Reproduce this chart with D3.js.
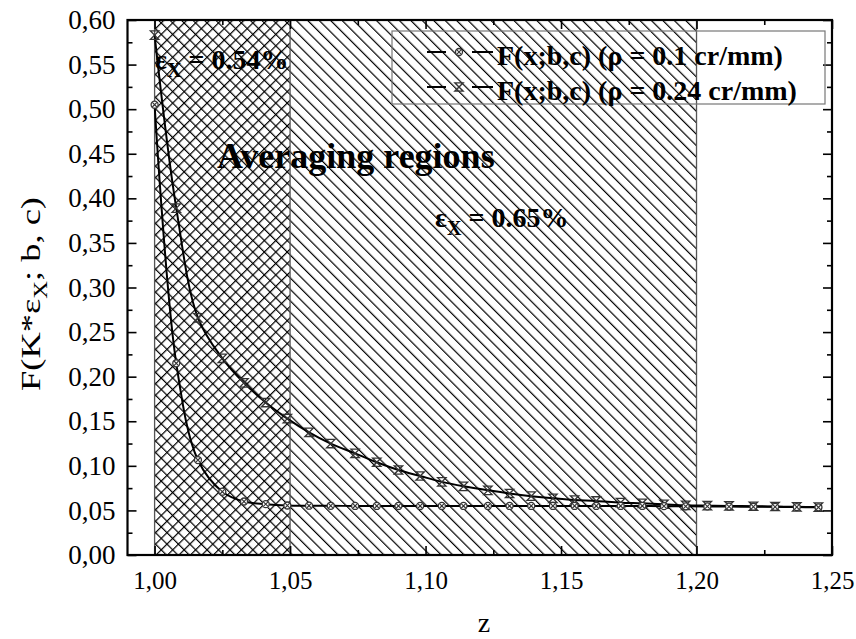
<!DOCTYPE html>
<html>
<head>
<meta charset="utf-8">
<script src="https://cdn.jsdelivr.net/npm/d3@7"></script>
<style>
  body { margin: 0; background: #fff; }
</style>
</head>
<body>
<div id="chart"></div>
<script>
// values
var zValues = [1.000, 1.008, 1.016, 1.025, 1.033, 1.041, 1.049, 1.057, 1.065, 1.074,
               1.082, 1.090, 1.098, 1.106, 1.114, 1.123, 1.131, 1.139, 1.147, 1.155,
               1.163, 1.172, 1.180, 1.188, 1.196, 1.204, 1.212, 1.221, 1.229, 1.237, 1.245];
var rho01 = [0.505, 0.215, 0.1065, 0.071, 0.060, 0.057, 0.0555, 0.0553, 0.0552, 0.055,
             0.055, 0.055, 0.055, 0.055, 0.055, 0.055, 0.055, 0.055, 0.055, 0.055,
             0.055, 0.055, 0.055, 0.0548, 0.0546, 0.0545, 0.0543, 0.0541, 0.054, 0.0538, 0.0535];
var rho024 = [0.583, 0.389, 0.266, 0.2206, 0.193, 0.171, 0.153, 0.1376, 0.125, 0.114,
              0.104, 0.0953, 0.0886, 0.082, 0.077, 0.0725, 0.069, 0.066, 0.0636, 0.0617,
              0.0606, 0.0587, 0.058, 0.0569, 0.0557, 0.0553, 0.055, 0.0547, 0.0544, 0.054, 0.0537];
var seriesNames = ["F(x;b,c) (\u03c1 = 0.1 cr/mm)", "F(x;b,c) (\u03c1 = 0.24 cr/mm)"];

var xTickValues = [1.00, 1.05, 1.10, 1.15, 1.20, 1.25];
var xTickLabels = ["1,00", "1,05", "1,10", "1,15", "1,20", "1,25"];
var yTickValues = [0, 0.05, 0.10, 0.15, 0.20, 0.25, 0.30, 0.35, 0.40, 0.45, 0.50, 0.55, 0.60];
var yTickLabels = ["0,00", "0,05", "0,10", "0,15", "0,20", "0,25", "0,30", "0,35", "0,40", "0,45", "0,50", "0,55", "0,60"];

// averaging regions (z from / to)
var crossRegion = [1.00, 1.05];
var diagRegion = [1.00, 1.20];

var FONT = "'Liberation Serif', 'Times New Roman', 'DejaVu Serif', serif";

var svgWidth = 856;
var svgHeight = 639;
var plot = {left: 127.5, right: 832, top: 20, bottom: 555};

var svg = d3.select("#chart").append("svg")
    .attr("width", svgWidth)
    .attr("height", svgHeight);

var xScale = d3.scaleLinear().domain([0.990, 1.25]).range([plot.left, plot.right]);
var yScale = d3.scaleLinear().domain([0, 0.6]).range([plot.bottom, plot.top]);

// hatch patterns
var defs = svg.append("defs");
function hatch(id, angle) {
    var p = defs.append("pattern")
        .attr("id", id)
        .attr("patternUnits", "userSpaceOnUse")
        .attr("width", 8.1).attr("height", 8.1)
        .attr("patternTransform", "rotate(" + angle + ")");
    p.append("line")
        .attr("x1", 0.6).attr("y1", -1).attr("x2", 0.6).attr("y2", 10)
        .attr("stroke", "#000").attr("stroke-width", 1.2);
}
hatch("back", -45);
hatch("fwd", 45);

svg.append("rect")
    .attr("x", xScale(diagRegion[0])).attr("y", plot.top)
    .attr("width", xScale(diagRegion[1]) - xScale(diagRegion[0]))
    .attr("height", plot.bottom - plot.top)
    .attr("fill", "url(#back)");
svg.append("rect")
    .attr("x", xScale(crossRegion[0])).attr("y", plot.top)
    .attr("width", xScale(crossRegion[1]) - xScale(crossRegion[0]))
    .attr("height", plot.bottom - plot.top)
    .attr("fill", "url(#fwd)");

// region borders
[diagRegion[0], crossRegion[1], diagRegion[1]].forEach(function(v) {
    svg.append("line")
        .attr("x1", xScale(v)).attr("x2", xScale(v))
        .attr("y1", plot.top).attr("y2", plot.bottom)
        .attr("stroke", "#555").attr("stroke-width", 1.3);
});

// curves
var line = d3.line()
    .x(function(d) { return xScale(d[0]); })
    .y(function(d) { return yScale(d[1]); })
    .curve(d3.curveCatmullRom.alpha(0.5));

var s1 = zValues.map(function(z, i) { return [z, rho01[i]]; });
var s2 = zValues.map(function(z, i) { return [z, rho024[i]]; });

svg.append("path").datum(s2)
    .attr("d", line).attr("fill", "none")
    .attr("stroke", "#000").attr("stroke-width", 2);
svg.append("path").datum(s1)
    .attr("d", line).attr("fill", "none")
    .attr("stroke", "#000").attr("stroke-width", 2);

// markers
function circleMark(g) {
    g.append("circle").attr("r", 3.5)
        .attr("fill", "#fff").attr("stroke", "#333").attr("stroke-width", 1.3);
    g.append("path").attr("d", "M-2.3,-2.3L2.3,2.3M2.3,-2.3L-2.3,2.3")
        .attr("stroke", "#333").attr("stroke-width", 1.1);
}
function hourMark(g) {
    g.append("path").attr("d", "M-4.2,-4.2L4.2,-4.2L-4.2,4.2L4.2,4.2Z")
        .attr("fill", "none").attr("stroke", "#333").attr("stroke-width", 1.3);
}

svg.selectAll(".m2").data(s2).enter().append("g")
    .attr("transform", function(d) { return "translate(" + xScale(d[0]) + "," + yScale(d[1]) + ")"; })
    .each(function() { hourMark(d3.select(this)); });
svg.selectAll(".m1").data(s1).enter().append("g")
    .attr("transform", function(d) { return "translate(" + xScale(d[0]) + "," + yScale(d[1]) + ")"; })
    .each(function() { circleMark(d3.select(this)); });

// axes, ticks point inwards
var xMinor = d3.range(1.025, 1.25, 0.05);
var yMinor = d3.range(0.025, 0.6, 0.05);

function styleAxis(size) {
    return function(g) {
        g.select(".domain").remove();
        g.attr("font-family", null).attr("font-size", null);
        g.selectAll("line").attr("stroke", "#000").attr("stroke-width", 1.6);
        g.selectAll("text").style("font-size", size + "px").attr("fill", "#000");
    };
}

svg.append("g").attr("transform", "translate(0," + plot.bottom + ")")
    .call(d3.axisBottom(xScale).tickValues(xTickValues).tickSize(-9).tickPadding(16)
        .tickFormat(function(d, i) { return xTickLabels[i]; }))
    .call(styleAxis(25));
svg.append("g").attr("transform", "translate(0," + plot.bottom + ")")
    .call(d3.axisBottom(xScale).tickValues(xMinor).tickSize(-5).tickFormat(""))
    .call(styleAxis(25));
svg.append("g").attr("transform", "translate(0," + plot.top + ")")
    .call(d3.axisTop(xScale).tickValues(xTickValues).tickSize(-9).tickFormat(""))
    .call(styleAxis(25));
svg.append("g").attr("transform", "translate(0," + plot.top + ")")
    .call(d3.axisTop(xScale).tickValues(xMinor).tickSize(-5).tickFormat(""))
    .call(styleAxis(25));

svg.append("g").attr("transform", "translate(" + plot.left + ",0)")
    .call(d3.axisLeft(yScale).tickValues(yTickValues).tickSize(-9).tickPadding(12)
        .tickFormat(function(d, i) { return yTickLabels[i]; }))
    .call(styleAxis(27));
svg.append("g").attr("transform", "translate(" + plot.left + ",0)")
    .call(d3.axisLeft(yScale).tickValues(yMinor).tickSize(-5).tickFormat(""))
    .call(styleAxis(27));
svg.append("g").attr("transform", "translate(" + plot.right + ",0)")
    .call(d3.axisRight(yScale).tickValues(yTickValues).tickSize(-9).tickFormat(""))
    .call(styleAxis(27));
svg.append("g").attr("transform", "translate(" + plot.right + ",0)")
    .call(d3.axisRight(yScale).tickValues(yMinor).tickSize(-5).tickFormat(""))
    .call(styleAxis(27));

// frame
svg.append("rect")
    .attr("x", plot.left).attr("y", plot.top)
    .attr("width", plot.right - plot.left).attr("height", plot.bottom - plot.top)
    .attr("fill", "none").attr("stroke", "#000").attr("stroke-width", 2.2);

// axis titles
svg.append("text")
    .attr("x", 484).attr("y", 632)
    .attr("text-anchor", "middle")
    .style("font-size", "28px")
    .text("z");

// the y title in the original is stretched along its length
var yt = svg.append("text")
    .attr("transform", "translate(40,294) rotate(-90) scale(1.3,1)")
    .attr("text-anchor", "middle")
    .style("font-size", "28px");
yt.append("tspan").text("F(K*\u03b5");
yt.append("tspan").attr("dy", 7).style("font-size", "19px").text("X");
yt.append("tspan").attr("dy", -7).text("; b, c)");

// annotations
function epsLabel(x, y, rest) {
    var t = svg.append("text")
        .attr("x", x).attr("y", y)
        .style("font-size", "28px").style("font-weight", "bold");
    t.append("tspan").text("\u03b5");
    t.append("tspan").attr("dy", 8).style("font-size", "20px").text("X");
    t.append("tspan").attr("dy", -8).text(" " + rest);
}
epsLabel(155, 69, "= 0.54%");
epsLabel(435, 227, "= 0.65%");

svg.append("text")
    .attr("x", 217).attr("y", 168)
    .style("font-size", "36px").style("font-weight", "bold")
    .text("Averaging regions");

// legend
var legend = svg.append("g");
legend.append("rect")
    .attr("x", 392).attr("y", 31).attr("width", 433).attr("height", 73)
    .attr("fill", "none").attr("stroke", "#777").attr("stroke-width", 1.2);

var legendRows = [{y: 52, mark: circleMark}, {y: 87, mark: hourMark}];
legendRows.forEach(function(r, i) {
    legend.append("line").attr("x1", 427).attr("x2", 446).attr("y1", r.y).attr("y2", r.y)
        .attr("stroke", "#000").attr("stroke-width", 2);
    legend.append("line").attr("x1", 472).attr("x2", 493).attr("y1", r.y).attr("y2", r.y)
        .attr("stroke", "#000").attr("stroke-width", 2);
    var g = legend.append("g").attr("transform", "translate(459," + r.y + ")");
    r.mark(g);
    legend.append("text")
        .attr("x", 497).attr("y", r.y + 13)
        .style("font-size", "28px").style("font-weight", "bold")
        .text(seriesNames[i]);
});

svg.selectAll("text").style("font-family", FONT);
</script>
</body>
</html>
